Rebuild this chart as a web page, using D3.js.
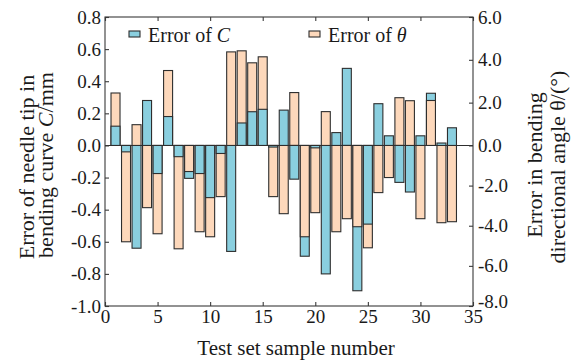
<!DOCTYPE html>
<html>
<head>
<meta charset="utf-8">
<script src="https://cdn.jsdelivr.net/npm/d3@7"></script>
<style>
  body { margin: 0; background: #fff; }
  svg text { font-family: "Liberation Serif", "Times New Roman", serif; fill: #1a1a1a; }
</style>
</head>
<body>
<div id="chart"></div>
<script>
// values
const samples = d3.range(1, 34);
const errC = [0.12, -0.04, -0.64, 0.28, -0.175, 0.18, -0.07, -0.205, -0.175, -0.325, -0.05, -0.66, 0.14, 0.21, 0.225, -0.01, 0.22, -0.21, -0.69, -0.015, -0.80, 0.08, 0.48, -0.905, -0.49, 0.26, 0.06, -0.23, -0.29, 0.06, 0.325, 0.015, 0.11];
const errTheta = [2.45, -4.8, 0.97, -3.1, -4.4, 3.5, -5.15, -1.3, -4.3, -4.55, -2.55, 4.37, 4.42, 3.86, 4.14, -2.55, -3.4, 2.47, -4.55, -3.35, 1.58, -4.3, -3.65, -4.05, -5.1, -2.35, -1.6, 2.23, 2.09, -3.65, 2.1, -3.85, -3.8];
const xTicks = [0, 5, 10, 15, 20, 25, 30, 35];
const leftTicks = [-1.0, -0.8, -0.6, -0.4, -0.2, 0.0, 0.2, 0.4, 0.6, 0.8];
const rightTicks = [-8, -6, -4, -2, 0, 2, 4, 6];

const width = 573, height = 360;
const plotL = 105, plotR = 473, plotT = 17, plotB = 306;

const blue = '#8acfdf', peach = '#fdd8bb', edge = '#2e2e2e', axisCol = '#3a3a3a';

const svg = d3.select('#chart').append('svg')
  .attr('width', width)
  .attr('height', height);

let x = d3.scaleLinear().domain([0, 35]).range([plotL, plotR]);
let yL = d3.scaleLinear().domain([-1, 0.8]).range([plotB, plotT]);
// right axis is not quite linear in the original, zero shared with left
let yR = d3.scaleLinear().domain([-8, 0, 6]).range([plotB, yL(0), plotT]);

const barW = 9;

// build marks, larger one first so the smaller sits on top
let marks = [];
samples.forEach((s, i) => {
  let pair = [
    { s: s, y0: yL(0), y1: yL(errC[i]), fill: blue },
    { s: s, y0: yR(0), y1: yR(errTheta[i]), fill: peach }
  ];
  pair.sort((a, b) => Math.abs(b.y1 - b.y0) - Math.abs(a.y1 - a.y0));
  marks = marks.concat(pair);
});

svg.append('g')
  .selectAll('rect')
  .data(marks)
  .enter()
  .append('rect')
  .attr('x', d => x(d.s) - barW / 2)
  .attr('width', barW)
  .attr('y', d => Math.min(d.y0, d.y1))
  .attr('height', d => Math.abs(d.y1 - d.y0))
  .attr('fill', d => d.fill)
  .attr('stroke', edge)
  .attr('stroke-width', 1.1);

// zero line
svg.append('line')
  .attr('x1', plotL).attr('x2', plotR)
  .attr('y1', yL(0)).attr('y2', yL(0))
  .attr('stroke', edge)
  .attr('stroke-width', 1.1);

// frame
svg.append('rect')
  .attr('x', plotL).attr('y', plotT)
  .attr('width', plotR - plotL).attr('height', plotB - plotT)
  .attr('fill', 'none')
  .attr('stroke', axisCol)
  .attr('stroke-width', 1.1);

const fmt = d => d.toFixed(1);

const styleAxis = g => {
  g.select('.domain').remove();
  g.selectAll('line').attr('stroke', axisCol).attr('stroke-width', 1.1);
  g.selectAll('text').attr('font-size', 19).attr('fill', '#1a1a1a')
    .attr('font-family', '"Liberation Serif", serif');
};

svg.append('g')
  .attr('transform', `translate(${plotL},0)`)
  .call(d3.axisLeft(yL).tickValues(leftTicks).tickFormat(fmt).tickSize(-4).tickPadding(4))
  .call(styleAxis);

let rAxis = svg.append('g')
  .attr('transform', `translate(${plotR},0)`)
  .call(d3.axisRight(yR).tickValues(rightTicks).tickFormat(fmt).tickSize(-4).tickPadding(5))
  .call(styleAxis);
// bottom label sits a touch higher, clear of the "35"
rAxis.selectAll('text').filter(d => d === -8).attr('dy', '0.1em');

svg.append('g')
  .attr('transform', `translate(0,${plotB})`)
  .call(d3.axisBottom(x).tickValues(xTicks).tickSize(-4).tickPadding(4))
  .call(styleAxis);

svg.append('g')
  .attr('transform', `translate(0,${plotT})`)
  .call(d3.axisTop(x).tickValues(xTicks).tickFormat('').tickSize(-4))
  .call(styleAxis);

// legend
const legend = [
  { name: 'C', fill: blue, x: 129 },
  { name: 'θ', fill: peach, x: 309 }
];
legend.forEach(l => {
  svg.append('rect')
    .attr('x', l.x).attr('y', 31)
    .attr('width', 11).attr('height', 6)
    .attr('fill', l.fill)
    .attr('stroke', edge)
    .attr('stroke-width', 1.1);
  let t = svg.append('text')
    .attr('x', l.x + 19).attr('y', 42)
    .attr('font-size', 20);
  t.append('tspan').text('Error of ');
  t.append('tspan').attr('font-style', 'italic').text(l.name);
});

// axis titles
svg.append('text')
  .attr('x', 296).attr('y', 355)
  .attr('text-anchor', 'middle')
  .attr('font-size', 21)
  .text('Test set sample number');

svg.append('text')
  .attr('transform', 'translate(34,167) rotate(-90)')
  .attr('text-anchor', 'middle')
  .attr('font-size', 22)
  .text('Error of needle tip in');

let lt2 = svg.append('text')
  .attr('transform', 'translate(53,165) rotate(-90)')
  .attr('text-anchor', 'middle')
  .attr('font-size', 22);
lt2.append('tspan').text('bending curve ');
lt2.append('tspan').attr('font-style', 'italic').text('C');
lt2.append('tspan').text('/mm');

svg.append('text')
  .attr('transform', 'translate(542,165) rotate(-90)')
  .attr('text-anchor', 'middle')
  .attr('font-size', 22)
  .text('Error in bending');

svg.append('text')
  .attr('transform', 'translate(565,167) rotate(-90)')
  .attr('text-anchor', 'middle')
  .attr('font-size', 22)
  .text('directional angle θ/(°)');
</script>
</body>
</html>
